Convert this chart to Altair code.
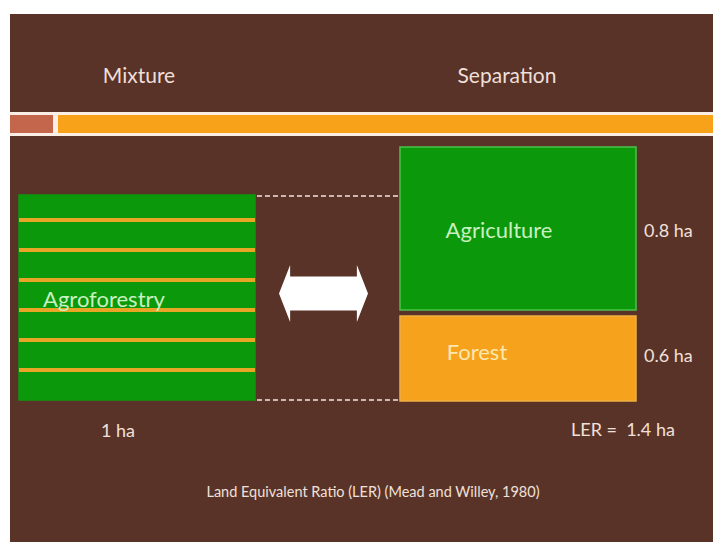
import altair as alt
import pandas as pd

# ---------------- data ----------------
headers = ["Mixture", "Separation"]
header_x = [139, 507]
header_y = [77, 77]

plot_names = ["Agroforestry", "Agriculture", "Forest"]
plot_area_ha = ["1 ha", "0.8 ha", "0.6 ha"]
rect_x1 = [19, 400, 400]
rect_x2 = [255, 636, 636]
rect_y1 = [195, 147, 316]
rect_y2 = [400, 310, 401]
rect_fill = ["#0b990b", "#0b990b", "#f6a21c"]
rect_stroke = ["#0b990b", "#4cc24a", "#f0b040"]

stripe_y = [220, 250, 280, 310, 340, 370]

label_text = ["Agroforestry", "Agriculture", "Forest"]
label_x = [43, 499, 477]
label_y = [300, 231, 353]
label_align = ["left", "center", "center"]
label_color = ["#c8f0c0", "#c8f0c0", "#fbe7b0"]

value_text = ["0.8 ha", "0.6 ha", "1 ha", "LER =\u00a0 1.4 ha"]
value_x = [644, 644, 101, 571]
value_y = [232, 357, 432, 431]

dash_y = [196, 400]

footnote = "Land Equivalent Ratio (LER) (Mead and Willey, 1980)"

W, H = 705, 534
X0, Y0 = 8, 8
xs = alt.Scale(domain=[X0, X0 + W], nice=False, zero=False)
ys = alt.Scale(domain=[Y0, Y0 + H], nice=False, zero=False, reverse=True)


def X(f):
    return alt.X(f, type="quantitative", scale=xs, axis=None)


def Y(f):
    return alt.Y(f, type="quantitative", scale=ys, axis=None)


BROWN = "#5a3328"
FONT = "Lato"

# background panel
bg = pd.DataFrame({"x1": [10], "x2": [X0 + W], "y1": [14], "y2": [Y0 + H]})
bg_layer = alt.Chart(bg).mark_rect(color=BROWN).encode(
    x=X("x1"), x2="x2", y=Y("y1"), y2="y2")

# separator band
band = pd.DataFrame({
    "x1": [10, 10, 58], "x2": [X0 + W, 53, X0 + W],
    "y1": [112, 115, 115], "y2": [136, 133, 133],
    "c": ["#fbeee4", "#c4664c", "#f8a21a"]})
band_layer = alt.Chart(band).mark_rect().encode(
    x=X("x1"), x2="x2", y=Y("y1"), y2="y2",
    color=alt.Color("c:N", scale=None))

rects = pd.DataFrame({"x1": rect_x1, "x2": rect_x2, "y1": rect_y1, "y2": rect_y2,
                      "f": rect_fill, "s": rect_stroke, "name": plot_names})
rect_layer = alt.Chart(rects).mark_rect(strokeWidth=1.5).encode(
    x=X("x1"), x2="x2", y=Y("y1"), y2="y2",
    fill=alt.Fill("f:N", scale=None), stroke=alt.Stroke("s:N", scale=None))

stripes = pd.DataFrame({"y": stripe_y, "x1": [19] * len(stripe_y),
                        "x2": [255] * len(stripe_y)})
stripe_layer = alt.Chart(stripes).mark_rule(color="#e9a526", strokeWidth=4).encode(
    x=X("x1"), x2="x2", y=Y("y"))

dashes = pd.DataFrame({"y": dash_y, "x1": [257, 257], "x2": [398, 398]})
dash_layer = alt.Chart(dashes).mark_rule(color="#f3e6e0", strokeWidth=1.5,
                                         strokeDash=[5, 3]).encode(
    x=X("x1"), x2="x2", y=Y("y"))

arrow_path = ("M -1 0 L -0.75 -0.64 L -0.75 -0.38 L 0.75 -0.38 L 0.75 -0.64 "
              "L 1 0 L 0.75 0.64 L 0.75 0.38 L -0.75 0.38 L -0.75 0.64 Z")
arrow = pd.DataFrame({"x": [323.5], "y": [293.5]})
arrow_layer = alt.Chart(arrow).mark_point(
    shape=arrow_path, filled=True, color="#ffffff", opacity=1, size=89 * 89,
    strokeWidth=0).encode(x=X("x"), y=Y("y"))

hdr = pd.DataFrame({"t": headers, "x": header_x, "y": header_y})
hdr_layer = alt.Chart(hdr).mark_text(font=FONT, fontSize=21, color="#eedfd8",
                                     baseline="middle").encode(
    x=X("x"), y=Y("y"), text="t:N")

lab = pd.DataFrame({"t": label_text, "x": label_x, "y": label_y,
                    "a": label_align, "c": label_color})
lab_left = alt.Chart(lab[lab.a == "left"].reset_index(drop=True)).mark_text(
    font=FONT, fontSize=22, align="left", baseline="middle").encode(
    x=X("x"), y=Y("y"), text="t:N", color=alt.Color("c:N", scale=None))
lab_center = alt.Chart(lab[lab.a == "center"].reset_index(drop=True)).mark_text(
    font=FONT, fontSize=22, align="center", baseline="middle").encode(
    x=X("x"), y=Y("y"), text="t:N", color=alt.Color("c:N", scale=None))

val = pd.DataFrame({"t": value_text, "x": value_x, "y": value_y})
val_layer = alt.Chart(val).mark_text(font=FONT, fontSize=18, color="#f0e0da",
                                     align="left", baseline="middle").encode(
    x=X("x"), y=Y("y"), text="t:N")

foot = pd.DataFrame({"t": [footnote], "x": [373], "y": [493]})
foot_layer = alt.Chart(foot).mark_text(font=FONT, fontSize=14.5, color="#f0e0da",
                                       align="center", baseline="middle").encode(
    x=X("x"), y=Y("y"), text="t:N")

chart = alt.layer(
    bg_layer, band_layer, rect_layer, stripe_layer, dash_layer, arrow_layer,
    hdr_layer, lab_left, lab_center, val_layer, foot_layer
).properties(
    width=W, height=H, padding=0, background="#ffffff",
    autosize=alt.AutoSizeParams(type="none")
).configure_view(stroke=None)

chart.save("out.html", embed_options={"renderer": "svg", "actions": False})
